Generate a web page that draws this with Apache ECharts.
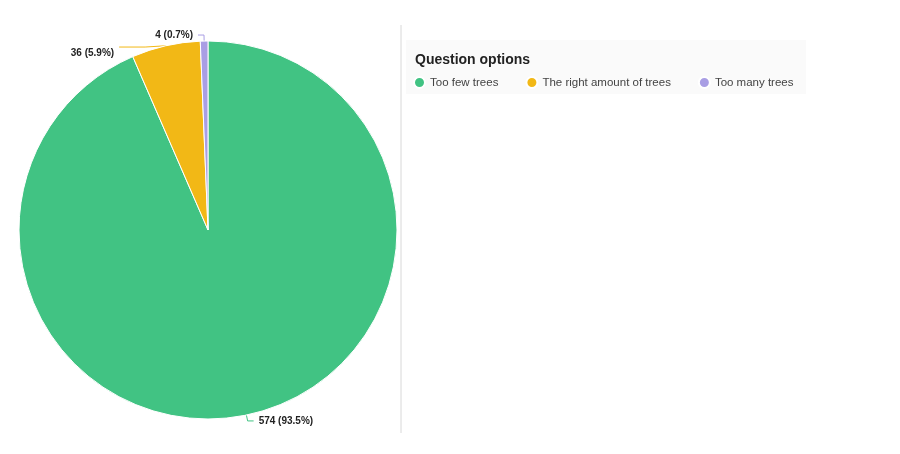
<!DOCTYPE html>
<html>
<head>
<meta charset="utf-8">
<script src="https://cdn.jsdelivr.net/npm/echarts@6/dist/echarts.min.js"></script>
<style>
  html, body { margin: 0; padding: 0; background: #fff; }
  #chart { width: 900px; height: 454px; }
</style>
</head>
<body>
<div id="chart"></div>
<script>
// chart data
const categories = ['Too few trees', 'The right amount of trees', 'Too many trees'];
const counts = [574, 36, 4];
const colors = ['#41c383', '#f2b816', '#a99ee4'];
const lineTails = [6, 26, 6];

const chart = echarts.init(document.getElementById('chart'));
const total = counts.reduce((a, b) => a + b, 0);

const pieData = categories.map((name, i) => ({
  name: name,
  value: counts[i],
  itemStyle: { color: colors[i] },
  labelLine: { length2: lineTails[i], lineStyle: { color: colors[i] } }
}));

chart.setOption({
  animation: false,
  textStyle: { fontFamily: 'Liberation Sans, Arial, sans-serif' },
  title: {
    text: 'Question options',
    left: 410,
    top: 48,
    textStyle: { fontSize: 14, fontWeight: 'bold', color: '#222' }
  },
  legend: {
    left: 408,
    top: 71,
    icon: 'circle',
    itemWidth: 11,
    itemHeight: 11,
    itemGap: 27,
    textStyle: { fontSize: 11.5, color: '#444' },
    data: categories
  },
  graphic: [
    {
      type: 'rect',
      z: -1,
      shape: { x: 406, y: 40, width: 400, height: 54 },
      style: { fill: '#fafafa' }
    },
    {
      type: 'line',
      shape: { x1: 401, y1: 25, x2: 401, y2: 433 },
      style: { stroke: '#d8d8d8', lineWidth: 1 }
    }
  ],
  series: [{
    type: 'pie',
    center: [208, 230],
    radius: 189,
    startAngle: 90,
    clockwise: true,
    itemStyle: { borderColor: '#fff', borderWidth: 1 },
    label: {
      formatter: p => p.value + ' (' + (p.value / total * 100).toFixed(1) + '%)',
      fontSize: 10,
      fontWeight: 'bold',
      color: '#222'
    },
    labelLine: { length: 6, length2: 6, lineStyle: { width: 1 } },
    labelLayout: p => (p.dataIndex === 1 ? { dy: 6 } : {}),
    data: pieData
  }]
});
</script>
</body>
</html>
